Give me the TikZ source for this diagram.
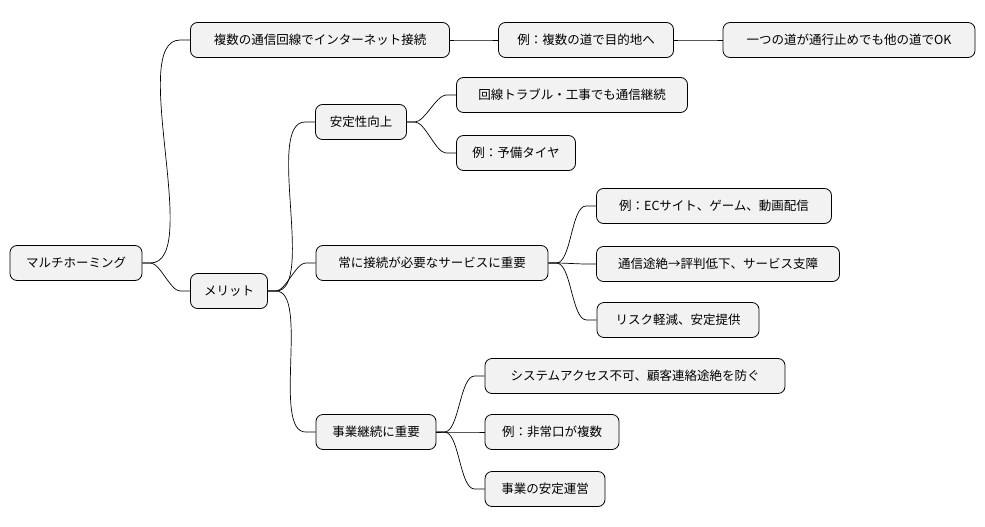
\documentclass[tikz,border=0pt]{standalone}
\usepackage{fontspec}
\setmainfont{Noto Sans CJK JP}
\begin{document}
\begin{tikzpicture}[x=1pt,y=-1pt,
  n/.style={draw=black,fill=black!5,rounded corners=7pt,line width=0.8pt,minimum height=35pt,inner xsep=0pt,font=\fontsize{12.5}{14}\selectfont},
  c/.style={line width=0.7pt}]
\useasboundingbox (0,0) rectangle (985,527);
\node[n,minimum width=132] (r) at (76,263) {マルチホーミング};
\node[n,minimum width=259] (a) at (320,40) {複数の通信回線でインターネット接続};
\node[n,minimum width=175] (a1) at (586,40) {例：複数の道で目的地へ};
\node[n,minimum width=252] (a2) at (849,40) {一つの道が通行止めでも他の道でOK};
\node[n,minimum width=77] (m) at (229,291) {メリット};
\node[n,minimum width=91] (s) at (361,122) {安定性向上};
\node[n,minimum width=231] (s1) at (572,95) {回線トラブル・工事でも通信継続};
\node[n,minimum width=119] (s2) at (516,153) {例：予備タイヤ};
\node[n,minimum width=232] (k) at (432,263) {常に接続が必要なサービスに重要};
\node[n,minimum width=235] (k1) at (714,206) {例：ECサイト、ゲーム、動画配信};
\node[n,minimum width=243] (k2) at (718,264) {通信途絶→評判低下、サービス支障};
\node[n,minimum width=162] (k3) at (678,320) {リスク軽減、安定提供};
\node[n,minimum width=120] (j) at (376,432) {事業継続に重要};
\node[n,minimum width=300] (j1) at (635,376) {システムアクセス不可、顧客連絡途絶を防ぐ};
\node[n,minimum width=134] (j2) at (552,432) {例：非常口が複数};
\node[n,minimum width=120] (j3) at (545,489) {事業の安定運営};
\foreach \p/\q in {r/a,r/m,a/a1,a1/a2,m/s,m/k,m/j,s/s1,s/s2,k/k1,k/k2,k/k3,j/j1,j/j2,j/j3}
  \draw[c] (\p.east) -- ++(8,0) to[out=0,in=180,looseness=0.6] ([xshift=-10]\q.west) -- (\q.west);
\end{tikzpicture}
\end{document}
